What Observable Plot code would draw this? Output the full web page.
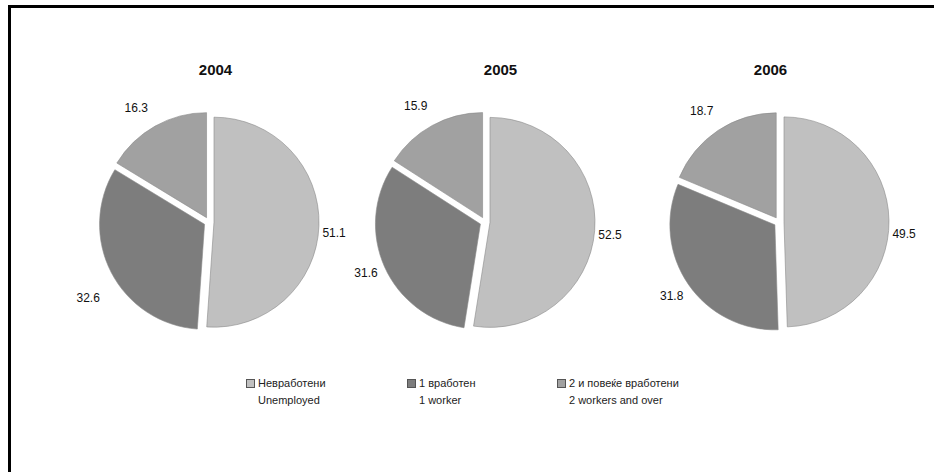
<!DOCTYPE html>
<html><head><meta charset="utf-8">
<script src="https://cdn.jsdelivr.net/npm/d3@7"></script>
<script src="https://cdn.jsdelivr.net/npm/@observablehq/plot@0.6"></script>
<style>
body{margin:0;background:#fff;}
#wrap{position:relative;width:934px;height:472px;overflow:hidden;font-family:"Liberation Sans",Arial,sans-serif;}
#frame{position:absolute;left:8px;top:5px;width:940px;height:480px;border-top:3px solid #000;border-left:3px solid #000;}
#chart{position:absolute;left:0;top:0;}
.leg{position:absolute;font-size:11px;color:#222;line-height:17px;white-space:nowrap;}
.sw{display:inline-block;width:7px;height:7px;border:1px solid #555;margin-right:3px;vertical-align:-1px;}
</style></head><body>
<div id="wrap"><div id="frame"></div><div id="chart"></div></div>
<script>
const years = [2004, 2005, 2006];
const categories = ["Невработени", "1 вработен", "2 и повеќе вработени"];
const categoriesEn = ["Unemployed", "1 worker", "2 workers and over"];
const unemployed = [51.1, 52.5, 49.5];
const oneWorker = [32.6, 31.6, 31.8];
const twoPlus = [16.3, 15.9, 18.7];
const colors = ["#c0c0c0", "#7d7d7d", "#a1a1a1"];

// layout constants (pixels)
const R = 105, CY = 222, EXPLODE = 5, GAP = 7;
const titleShift = [6, 15, -9];
const labelNudge = [
  [[-4, 6], [-5, 16], [-10, -3]],
  [[-4, 3], [0, -2], [-8, -4]],
  [[-4, 14], [0, 0], [-6, -4]]
];
const legendLeft = [246, 407, 557];
const legendTop = 375;

function pies(index, scales) {
  const g = d3.create("svg:g");
  const arc = d3.arc().innerRadius(0).outerRadius(R);
  years.forEach((yr, i) => {
    const cx = scales.x(yr);
    const vals = [unemployed[i], oneWorker[i], twoPlus[i]];
    const arcs = d3.pie().sort(null).value(v => v)(vals);
    arcs.forEach((a, k) => {
      const mid = (a.startAngle + a.endAngle) / 2;
      const ux = Math.sin(mid), uy = -Math.cos(mid);
      g.append("path")
        .attr("d", arc(a))
        .attr("transform", `translate(${cx + ux * EXPLODE},${CY + uy * EXPLODE})`)
        .attr("fill", colors[k])
        .attr("stroke", "#8a8a8a")
        .attr("stroke-width", 0.6);
      const lr = R + EXPLODE + GAP + 12 * Math.abs(ux) + 6 * Math.abs(uy);
      const [ndx, ndy] = labelNudge[i][k];
      g.append("text")
        .attr("x", cx + ux * lr + ndx)
        .attr("y", CY + uy * lr + ndy)
        .attr("dy", "0.35em")
        .attr("text-anchor", "middle")
        .attr("font-size", 12)
        .attr("fill", "#111")
        .text(vals[k].toFixed(1));
    });
  });
  return g.node();
}

const chart = Plot.plot({
  width: 934,
  height: 472,
  margin: 0,
  style: {background: "transparent", fontFamily: "'Liberation Sans', Arial, sans-serif"},
  x: {type: "linear", domain: years, range: [209, 485, 779], axis: null},
  marks: [
    ...years.map((yr, i) => Plot.text([yr], {
      x: d => d, frameAnchor: "top", dy: 64, dx: titleShift[i],
      text: d => String(d), fontSize: 15, fontWeight: "bold", fill: "#111"
    })),
    pies
  ]
});
document.getElementById("chart").appendChild(chart);

const wrap = document.getElementById("wrap");
categories.forEach((c, k) => {
  const div = document.createElement("div");
  div.className = "leg";
  div.style.left = legendLeft[k] + "px";
  div.style.top = legendTop + "px";
  div.innerHTML = `<span class="sw" style="background:${colors[k]}"></span>${c}<br><span style="padding-left:12px">${categoriesEn[k]}</span>`;
  wrap.appendChild(div);
});
</script>
</body></html>
